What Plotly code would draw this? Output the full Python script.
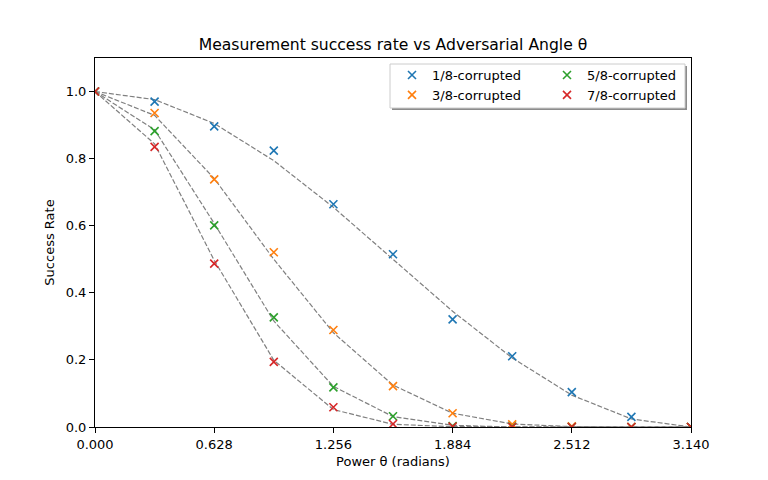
import plotly.graph_objects as go

theta = [0.0, 0.314, 0.628, 0.942, 1.256, 1.570, 1.884, 2.198, 2.512, 2.826, 3.140]
series_names = ["1/8-corrupted", "3/8-corrupted", "5/8-corrupted", "7/8-corrupted"]
measured_18 = [1.0, 0.970, 0.896, 0.824, 0.664, 0.515, 0.321, 0.211, 0.104, 0.030, 0.0]
measured_38 = [1.0, 0.936, 0.738, 0.521, 0.289, 0.122, 0.041, 0.008, 0.002, 0.0, 0.0]
measured_58 = [1.0, 0.882, 0.601, 0.327, 0.118, 0.032, 0.003, 0.001, 0.0, 0.0, 0.0]
measured_78 = [1.0, 0.835, 0.487, 0.194, 0.059, 0.009, 0.001, 0.0, 0.0, 0.0, 0.0]
expected_18 = [1.0, 0.976, 0.905, 0.794, 0.655, 0.500, 0.345, 0.206, 0.095, 0.024, 0.0]
expected_38 = [1.0, 0.929, 0.741, 0.500, 0.281, 0.125, 0.041, 0.009, 0.001, 0.0, 0.0]
expected_58 = [1.0, 0.886, 0.607, 0.316, 0.121, 0.031, 0.005, 0.0, 0.0, 0.0, 0.0]
expected_78 = [1.0, 0.844, 0.497, 0.199, 0.052, 0.008, 0.001, 0.0, 0.0, 0.0, 0.0]
x_ticks = [0.0, 0.628, 1.256, 1.884, 2.512, 3.140]
y_ticks = [0.0, 0.2, 0.4, 0.6, 0.8, 1.0]

colors = ["#1f77b4", "#ff7f0e", "#2ca02c", "#d62728"]
measured = [measured_18, measured_38, measured_58, measured_78]
expected = [expected_18, expected_38, expected_58, expected_78]
legends = ["legend", "legend", "legend2", "legend2"]

FONT = "DejaVu Sans"
FS = 13
fig = go.Figure()
for e in expected:
    fig.add_trace(go.Scatter(x=theta, y=e, mode="lines",
                             line=dict(color="#808080", width=1.2, dash="5px,2px"),
                             showlegend=False, hoverinfo="skip"))
for name, m, c, lg in zip(series_names, measured, colors, legends):
    fig.add_trace(go.Scatter(x=theta, y=m, mode="markers", name=name,
                             marker=dict(symbol="x-thin", size=8, color=c,
                                         line=dict(color=c, width=1.6)),
                             legend=lg))

# page body has an 8px offset; plot area in page px: left 95, right 691, top 58, bottom 427
OFF = 8
W, H = 768, 480
L, R, T, B = 95 - OFF, W - (691 - OFF), 58 - OFF, H - (427 - OFF)
PW, PH = W - L - R, H - T - B


def px_x(p):
    return (p - OFF - L) / PW


def px_y(p):
    return (H - B - (p - OFF)) / PH


x0, x1 = px_x(390), px_x(685)
y0, y1 = px_y(108), px_y(64)
dx, dy = 2 / PW, 2 / PH
fig.add_shape(type="rect", xref="paper", yref="paper", x0=x0 + dx, x1=x1 + dx,
              y0=y0 - dy, y1=y1 - dy, line=dict(width=0), fillcolor="rgba(0,0,0,0.45)",
              layer="above")
fig.add_shape(type="rect", xref="paper", yref="paper", x0=x0, x1=x1, y0=y0, y1=y1,
              line=dict(color="#cccccc", width=1), fillcolor="white", layer="above")

leg_common = dict(bgcolor="rgba(0,0,0,0)", borderwidth=0, font=dict(family=FONT, size=FS, color="black"),
                  yanchor="top", xanchor="left", tracegroupgap=0)
fig.update_layout(
    width=W, height=H,
    paper_bgcolor="white", plot_bgcolor="white",
    margin=dict(l=L, r=R, t=T, b=B),
    font=dict(family=FONT, size=FS, color="black"),
    title=dict(text="Measurement success rate vs Adversarial Angle θ", x=0.5, xref="paper",
               xanchor="center", y=1 - (45 - OFF) / H, yanchor="middle",
               font=dict(family=FONT, size=15.6, color="black")),
    xaxis=dict(range=[0, 3.14], tickvals=x_ticks, ticktext=[f"{v:.3f}" for v in x_ticks],
               showgrid=False, zeroline=False, showline=True, linecolor="black", linewidth=1,
               mirror=True, ticks="outside", ticklen=5, tickcolor="black",
               tickfont=dict(family=FONT, size=FS),
               title=dict(text="Power θ (radians)", standoff=6, font=dict(family=FONT, size=FS))),
    yaxis=dict(range=[0, 1.1], tickvals=y_ticks, ticktext=[f"{v:.1f}" for v in y_ticks],
               showgrid=False, zeroline=False, showline=True, linecolor="black", linewidth=1,
               mirror=True, ticks="outside", ticklen=5, tickcolor="black",
               tickfont=dict(family=FONT, size=FS),
               title=dict(text="Success Rate", standoff=8, font=dict(family=FONT, size=FS))),
    legend=dict(x=px_x(392), y=px_y(60), **leg_common),
    legend2=dict(x=px_x(547), y=px_y(60), **leg_common),
)
fig.write_html("out.html")
